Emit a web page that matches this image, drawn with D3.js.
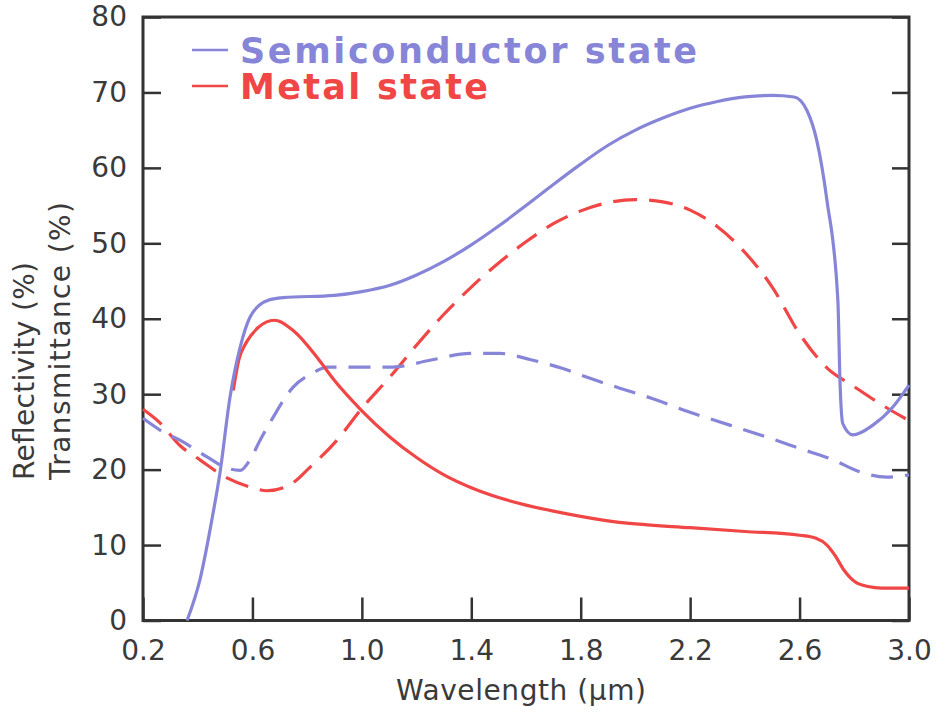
<!DOCTYPE html>
<html>
<head>
<meta charset="utf-8">
<script src="https://cdn.jsdelivr.net/npm/d3@7"></script>
<style>
  body { margin: 0; background: #fff; }
  svg { display: block; }
</style>
</head>
<body>
<div id="chart"></div>
<script>
// wavelength (um) and percent values
const semiSolidW = [0.361, 0.408, 0.456, 0.481, 0.518, 0.555, 0.591, 0.653, 0.712, 0.9, 1.0, 1.1, 1.2, 1.3, 1.4, 1.5, 1.6, 1.7, 1.8, 1.9, 2.0, 2.1, 2.2, 2.3, 2.4, 2.5, 2.58, 2.627, 2.663, 2.70, 2.74, 2.748, 2.758, 2.795, 2.868, 2.941, 3.0];
const semiSolidV = [0, 5.4, 14.2, 19.5, 29.6, 36.2, 40.2, 42.4, 42.8, 43.1, 43.6, 44.4, 45.8, 47.6, 49.8, 52.3, 55.0, 57.8, 60.5, 63.0, 65.0, 66.6, 67.9, 68.8, 69.4, 69.6, 69.4, 67.6, 63.6, 55.7, 42.4, 31.4, 26.1, 24.6, 25.9, 28.3, 31.2];

const semiDashW = [0.2, 0.273, 0.335, 0.434, 0.507, 0.555, 0.591, 0.628, 0.675, 0.748, 0.821, 0.873, 0.982, 1.114, 1.249, 1.395, 1.505, 1.614, 1.735, 1.834, 1.943, 2.064, 2.2, 2.345, 2.481, 2.601, 2.722, 2.821, 2.919, 3.0];
const semiDashV = [26.8, 25.0, 23.9, 21.7, 20.2, 19.9, 21.3, 23.9, 26.9, 30.9, 32.8, 33.6, 33.6, 33.6, 34.5, 35.4, 35.4, 34.6, 33.4, 32.1, 30.8, 29.4, 27.6, 25.9, 24.3, 22.8, 21.3, 19.7, 19.0, 19.3];

const metalSolidW = [0.53, 0.55, 0.58, 0.62, 0.68, 0.75, 0.84, 0.9, 1.0, 1.1, 1.2, 1.3, 1.4, 1.5, 1.6, 1.7, 1.8, 1.9, 2.0, 2.2, 2.4, 2.6, 2.66, 2.7, 2.73, 2.76, 2.8, 2.85, 2.9, 3.0];
const metalSolidV = [30.5, 34.5, 37.0, 38.8, 39.8, 38.4, 34.7, 31.8, 27.8, 24.4, 21.6, 19.3, 17.6, 16.3, 15.3, 14.5, 13.8, 13.2, 12.8, 12.3, 11.8, 11.3, 10.9, 10.0, 8.6, 6.8, 5.2, 4.5, 4.3, 4.3];

const metalDashW = [0.2, 0.262, 0.335, 0.408, 0.507, 0.591, 0.653, 0.737, 0.81, 0.909, 1.004, 1.103, 1.2, 1.3, 1.4, 1.5, 1.6, 1.7, 1.8, 1.9, 2.0, 2.1, 2.2, 2.3, 2.4, 2.5, 2.6, 2.7, 2.8, 2.9, 3.0];
const metalDashV = [28.0, 26.2, 23.2, 21.3, 18.9, 17.7, 17.2, 18.0, 20.3, 23.9, 28.3, 32.3, 36.5, 40.6, 44.2, 47.4, 50.2, 52.6, 54.3, 55.4, 55.8, 55.5, 54.4, 52.2, 48.8, 44.2, 38.0, 33.5, 31.0, 28.6, 26.5];

const xTicks = [0.2, 0.6, 1.0, 1.4, 1.8, 2.2, 2.6, 3.0];
const yTicks = [0, 10, 20, 30, 40, 50, 60, 70, 80];
const legendNames = ["Semiconductor state", "Metal state"];

const blue = "#8785d8";
const red = "#f04646";
const ink = "#333";

const svg = d3.select("#chart")
  .append("svg")
  .attr("width", 936)
  .attr("height", 712);

const x = d3.scaleLinear().domain([0.2, 3.0]).range([143, 909]);
const y = d3.scaleLinear().domain([0, 80]).range([620.5, 17]);

// y labels + inward ticks on the left
const left = svg.append("g")
  .attr("transform", "translate(143,0)")
  .call(d3.axisLeft(y).tickValues(yTicks).tickSizeInner(-18).tickSizeOuter(0).tickPadding(16));

// right side ticks, no labels
const right = svg.append("g")
  .attr("transform", "translate(909,0)")
  .call(d3.axisRight(y).tickValues(yTicks).tickSizeInner(-17).tickSizeOuter(0).tickFormat(""));

const bottom = svg.append("g")
  .attr("transform", "translate(0,620.5)")
  .call(d3.axisBottom(x).tickValues(xTicks).tickSizeInner(-23).tickSizeOuter(0)
    .tickPadding(20).tickFormat(d3.format(".1f")));

[left, right, bottom].forEach(g => {
  g.select(".domain").remove();
  g.selectAll(".tick line").attr("stroke", ink).attr("stroke-width", 2.5);
  g.selectAll("text")
    .attr("fill", "#3a3a3a")
    .style("font-family", "DejaVu Sans")
    .style("font-size", "28px");
});

// frame
svg.append("rect")
  .attr("x", x(0.2))
  .attr("y", y(80))
  .attr("width", x(3.0) - x(0.2))
  .attr("height", y(0) - y(80))
  .attr("fill", "none")
  .attr("stroke", ink)
  .attr("stroke-width", 3);

const line = d3.line()
  .x(d => x(d[0]))
  .y(d => y(d[1]))
  .curve(d3.curveMonotoneX);

const series = [
  { w: metalDashW, v: metalDashV, color: red, dash: "24,12" },
  { w: semiDashW, v: semiDashV, color: blue, dash: "22,12" },
  { w: metalSolidW, v: metalSolidV, color: red, dash: null },
  { w: semiSolidW, v: semiSolidV, color: blue, dash: null }
];

svg.append("g")
  .selectAll("path")
  .data(series)
  .enter()
  .append("path")
  .attr("d", s => line(d3.zip(s.w, s.v)))
  .attr("fill", "none")
  .attr("stroke", s => s.color)
  .attr("stroke-width", 3.2)
  .attr("stroke-dasharray", s => s.dash)
  .attr("stroke-linejoin", "round");

// legend
const legend = svg.append("g")
  .selectAll("g")
  .data(legendNames)
  .enter()
  .append("g")
  .attr("transform", (d, i) => "translate(0," + (i * 36) + ")");

legend.append("line")
  .attr("x1", 192).attr("x2", 228)
  .attr("y1", 50).attr("y2", 50)
  .attr("stroke", (d, i) => i === 0 ? blue : red)
  .attr("stroke-width", 2.5);

legend.append("text")
  .attr("x", 240)
  .attr("y", 63)
  .attr("textLength", (d, i) => i === 0 ? 457 : 248)
  .attr("fill", (d, i) => i === 0 ? blue : red)
  .style("font-family", "DejaVu Sans")
  .style("font-weight", "bold")
  .style("font-size", "35px")
  .text(d => d);

// axis titles
const titleFont = sel => sel
  .attr("fill", "#3a3a3a")
  .style("font-family", "DejaVu Sans")
  .style("font-size", "28px");

svg.append("text")
  .attr("x", 521)
  .attr("y", 700)
  .attr("text-anchor", "middle")
  .attr("textLength", 250)
  .call(titleFont)
  .text("Wavelength (\u03bcm)");

svg.append("text")
  .attr("transform", "translate(34,480) rotate(-90)")
  .attr("textLength", 218)
  .call(titleFont)
  .text("Reflectivity (%)");

svg.append("text")
  .attr("transform", "translate(70,480) rotate(-90)")
  .attr("textLength", 278)
  .call(titleFont)
  .text("Transmittance (%)");
</script>
</body>
</html>
